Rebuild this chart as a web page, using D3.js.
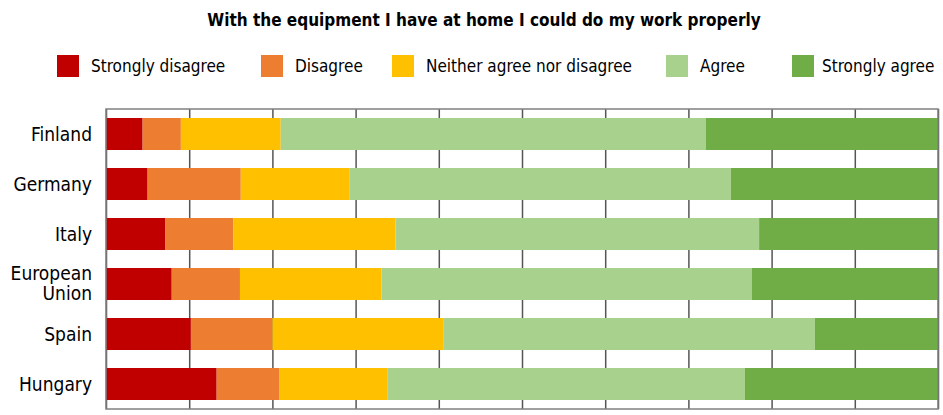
<!DOCTYPE html>
<html>
<head>
<meta charset="utf-8">
<script src="https://cdn.jsdelivr.net/npm/d3@7"></script>
<style>
  body { margin: 0; background: #fff; }
  text { font-family: "DejaVu Sans Condensed", "Liberation Sans Narrow", sans-serif; fill: #000; }
</style>
</head>
<body>
<div id="chart"></div>
<script>
// categories top to bottom
var countries = ["Finland", "Germany", "Italy", "European Union", "Spain", "Hungary"];
var answers = ["Strongly disagree", "Disagree", "Neither agree nor disagree", "Agree", "Strongly agree"];
var colors = ["#C00000", "#ED7D31", "#FFC000", "#A9D18E", "#70AD47"];

// shares in %, one array per answer, in country order
var stronglyDisagree = [4.4, 5.0, 7.1, 7.9, 10.2, 13.3];
var disagree         = [4.6, 11.2, 8.2, 8.2, 9.8, 7.5];
var neither          = [12.0, 13.1, 19.5, 17.0, 20.6, 13.0];
var agree            = [51.1, 45.8, 43.7, 44.5, 44.6, 43.0];
var stronglyAgree    = [27.9, 24.9, 21.5, 22.4, 14.8, 23.2];

var ticks = [0, 10, 20, 30, 40, 50, 60, 70, 80, 90, 100];

var w = 943, h = 415;
var margin = {top: 109, right: 5, bottom: 6, left: 106};

var table = countries.map(function (c, i) {
  return {
    country: c,
    "Strongly disagree": stronglyDisagree[i],
    "Disagree": disagree[i],
    "Neither agree nor disagree": neither[i],
    "Agree": agree[i],
    "Strongly agree": stronglyAgree[i]
  };
});

var svg = d3.select("#chart").append("svg")
  .attr("width", w)
  .attr("height", h);

var x = d3.scaleLinear().domain([0, 100]).range([margin.left, w - margin.right]);
var y = d3.scaleBand().domain(countries).range([margin.top, h - margin.bottom]).paddingInner(0.36).paddingOuter(0.18);
var color = d3.scaleOrdinal().domain(answers).range(colors);

// title
svg.append("text")
  .attr("x", 484)
  .attr("y", 26)
  .attr("text-anchor", "middle")
  .style("font-size", "17px")
  .style("font-weight", "bold")
  .text("With the equipment I have at home I could do my work properly");

// legend
var legendX = [57, 261, 392, 666, 792];
var legend = svg.append("g").selectAll("g")
  .data(answers)
  .enter()
  .append("g")
  .attr("transform", function (d, i) { return "translate(" + legendX[i] + ",55)"; });
legend.append("rect")
  .attr("width", 22)
  .attr("height", 22)
  .attr("fill", function (d) { return color(d); });
legend.append("text")
  .attr("x", function (d, i) { return i === 4 ? 30 : 34; })
  .attr("y", 17)
  .style("font-size", "17px")
  .text(function (d) { return d; });

// grid
svg.append("g")
  .attr("transform", "translate(0," + margin.top + ")")
  .call(d3.axisTop(x).tickValues(ticks).tickSize(-(h - margin.top - margin.bottom)).tickFormat(""))
  .call(function (g) { g.select(".domain").remove(); })
  .selectAll("line")
  .attr("stroke", "#555")
  .attr("stroke-width", 1.5);

// bars
var stacked = d3.stack().keys(answers)(table);
svg.append("g").selectAll("g")
  .data(stacked)
  .enter()
  .append("g")
  .attr("fill", function (d) { return color(d.key); })
  .selectAll("rect")
  .data(function (d) { return d; })
  .enter()
  .append("rect")
  .attr("x", function (d) { return x(d[0]); })
  .attr("y", function (d) { return y(d.data.country); })
  .attr("width", function (d) { return x(d[1]) - x(d[0]); })
  .attr("height", y.bandwidth());

// frame
svg.append("rect")
  .attr("x", x(0))
  .attr("y", margin.top)
  .attr("width", x(100) - x(0))
  .attr("height", h - margin.top - margin.bottom)
  .attr("fill", "none")
  .attr("stroke", "#808080")
  .attr("stroke-width", 1.5);

// country labels
var labels = svg.append("g").selectAll("text")
  .data(countries)
  .enter()
  .append("text")
  .attr("text-anchor", "end")
  .attr("x", 92)
  .attr("y", function (d) { return y(d) + y.bandwidth() / 2; })
  .style("font-size", "19px");
labels.each(function (d) {
  var words = d === "European Union" ? ["European", "Union"] : [d];
  var t = d3.select(this);
  words.forEach(function (wd, i) {
    t.append("tspan")
      .attr("x", 92)
      .attr("dy", i === 0 ? (words.length === 1 ? "0.35em" : "-0.2em") : "1.05em")
      .text(wd);
  });
});
</script>
</body>
</html>
